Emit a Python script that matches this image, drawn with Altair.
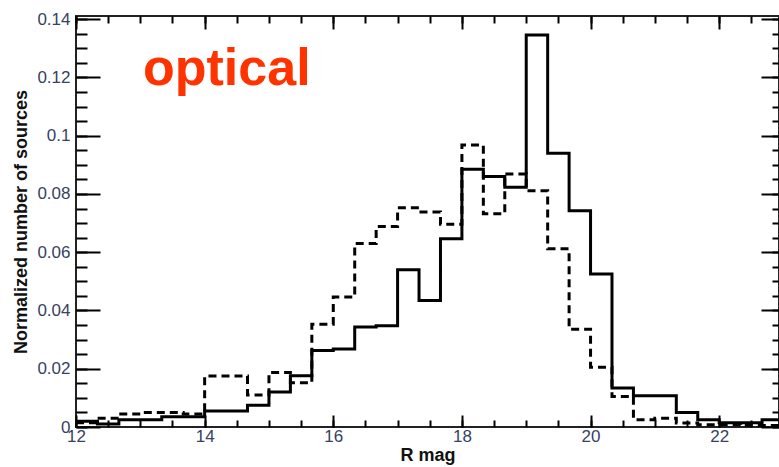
import altair as alt
import pandas as pd

# ---- data ----
r_mag_start = 12.0
bin_width = 1.0 / 3.0
n_bins = 33

solid_vals = [0.002, 0.001, 0.0025, 0.0025, 0.0035, 0.0035,
              0.0055, 0.0055, 0.0075, 0.012, 0.0176, 0.0263,
              0.0268, 0.0343, 0.0348, 0.054, 0.0434, 0.0646,
              0.0885, 0.086, 0.0823, 0.1346, 0.094, 0.0742,
              0.0525, 0.0134, 0.0107, 0.0107, 0.005, 0.0025,
              0.0015, 0.0015, 0.0025]

dashed_vals = [0.0015, 0.003, 0.0045, 0.005, 0.005, 0.0045,
               0.0175, 0.0175, 0.011, 0.0187, 0.0152, 0.0353,
               0.0446, 0.063, 0.0688, 0.0753, 0.0738, 0.0696,
               0.0968, 0.0732, 0.0869, 0.0811, 0.0612, 0.0336,
               0.0205, 0.0105, 0.0025, 0.003, 0.0014, 0.0008,
               0.0008, 0.0005, 0.0005]

x_major = [12, 14, 16, 18, 20, 22]
x_minor = [12 + 0.5 * i for i in range(22)]
y_major = [0, 0.02, 0.04, 0.06, 0.08, 0.1, 0.12, 0.14]
y_minor = [round(0.005 * i, 3) for i in range(29)]

annotation = "optical"

# ---- build step tables ----
edges = [r_mag_start + i * bin_width for i in range(n_bins + 1)]


def steps(vals):
    return pd.DataFrame({"rmag": edges, "frac": list(vals) + [vals[-1]]})


df_solid = steps(solid_vals)
df_dashed = steps(dashed_vals)

x_scale = alt.Scale(domain=[12, 22.93], nice=False, zero=False)
y_scale = alt.Scale(domain=[0, 0.1411], nice=False, zero=False)

LABEL_COLOR = "#36425f"
FONT = "Liberation Sans"

common_axis = dict(grid=False, domain=False, tickColor="black", tickWidth=2,
                   labelFont=FONT, titleFont=FONT)

x_bottom_major = alt.Axis(orient="bottom", values=x_major, offset=-12, tickSize=12,
                          labelPadding=1, labelFontSize=17, labelColor=LABEL_COLOR,
                          format="d", labelFlush=False, labelOverlap=False,
                          titleFontSize=18, titleFontWeight="bold", titleColor="#111",
                          titlePadding=2, **common_axis)
x_bottom_minor = alt.Axis(orient="bottom", values=x_minor, offset=-7, tickSize=7,
                          labels=False, **common_axis)
x_top_major = alt.Axis(orient="top", values=x_major, offset=-13, tickSize=13,
                       labels=False, **common_axis)
x_top_minor = alt.Axis(orient="top", values=x_minor, offset=-7, tickSize=7,
                       labels=False, **common_axis)

y_left_major = alt.Axis(orient="left", values=y_major, offset=-24, tickSize=24,
                        labelPadding=6, labelFontSize=17, labelColor=LABEL_COLOR,
                        format="~g", labelFlush=False, labelOverlap=False,
                        titleFontSize=18, titleFontWeight="bold", titleColor="#111",
                        titlePadding=6, **common_axis)
y_left_minor = alt.Axis(orient="left", values=y_minor, offset=-11, tickSize=11,
                        labels=False, **common_axis)
y_right_major = alt.Axis(orient="right", values=y_major, offset=-18, tickSize=18,
                         labels=False, **common_axis)
y_right_minor = alt.Axis(orient="right", values=y_minor, offset=-7, tickSize=7,
                         labels=False, **common_axis)

dashed = alt.Chart(df_dashed).mark_line(
    interpolate="step-after", color="black", strokeWidth=3,
    strokeDash=[8, 5], clip=True
).encode(
    x=alt.X("rmag:Q", scale=x_scale, axis=x_bottom_major, title="R mag"),
    y=alt.Y("frac:Q", scale=y_scale, axis=y_left_major,
            title="Normalized number of sources"),
)

solid = alt.Chart(df_solid).mark_line(
    interpolate="step-after", color="black", strokeWidth=3, clip=True
).encode(
    x=alt.X("rmag:Q", scale=x_scale, axis=x_bottom_minor, title=None),
    y=alt.Y("frac:Q", scale=y_scale, axis=y_left_minor, title=None),
)

ghost1 = alt.Chart(df_solid).mark_line(opacity=0, clip=True).encode(
    x=alt.X("rmag:Q", scale=x_scale, axis=x_top_major, title=None),
    y=alt.Y("frac:Q", scale=y_scale, axis=y_right_major, title=None),
)

ghost2 = alt.Chart(df_solid).mark_line(opacity=0, clip=True).encode(
    x=alt.X("rmag:Q", scale=x_scale, axis=x_top_minor, title=None),
    y=alt.Y("frac:Q", scale=y_scale, axis=y_right_minor, title=None),
)

label = alt.Chart(pd.DataFrame({"txt": [annotation]})).mark_text(
    align="left", baseline="alphabetic", font=FONT, fontSize=52,
    fontWeight="bold", color="#ff3300"
).encode(text="txt:N", x=alt.value(67), y=alt.value(69))

chart = alt.layer(dashed, solid, ghost1, ghost2, label).resolve_axis(
    x="independent", y="independent"
).properties(
    width=703, height=411,
    padding={"left": 76, "top": 16, "right": 0, "bottom": 40},
    autosize=alt.AutoSizeParams(type="none"),
    background="white",
).configure_view(stroke="#222", strokeWidth=2)

chart.save("out.html", embed_options={"renderer": "svg", "actions": False})
